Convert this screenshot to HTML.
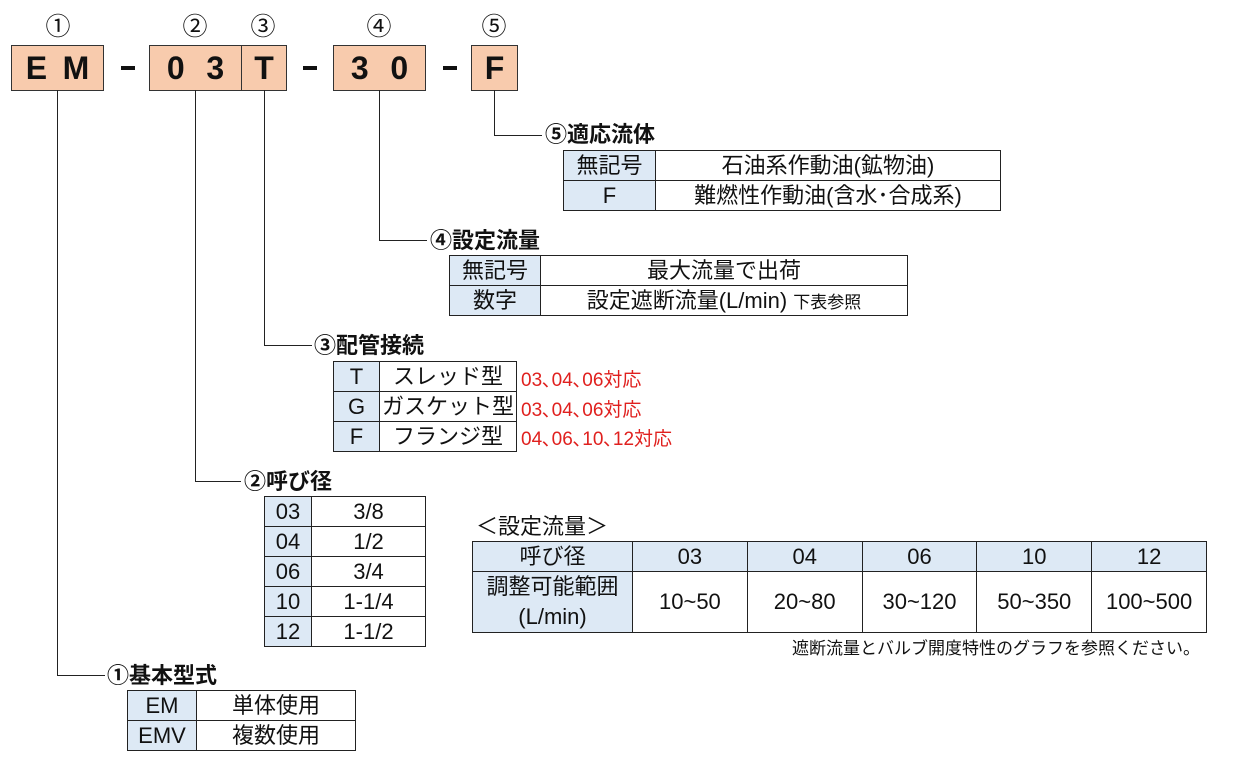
<!DOCTYPE html>
<html><head><meta charset="utf-8"><style>
body{margin:0;width:1233px;height:762px;background:#fff;position:relative;overflow:hidden;font-family:"Liberation Sans","Noto Sans CJK JP",sans-serif;color:#111}
.a{position:absolute}
.box{position:absolute;background:#f8cbad;border:1.5px solid #333;box-sizing:border-box;font-weight:bold;font-size:32px;display:flex;align-items:center;justify-content:space-around}
.num{position:absolute;font-size:25px;width:40px;text-align:center}
.dash{position:absolute;height:4px;width:14px;background:#111}
.v{position:absolute;width:1px;background:#222}
.h{position:absolute;height:1px;background:#222}
.lbl{position:absolute;font-weight:bold;font-size:22px;line-height:26px;white-space:nowrap}
table{position:absolute;border-collapse:collapse;table-layout:fixed;font-size:22px}
td{border:1.5px solid #222;padding:0;text-align:center;white-space:nowrap;line-height:1}
td.k{background:#dde9f5}
.red{position:absolute;color:#e0201e;font-size:19px;white-space:nowrap}
</style></head><body>
<div class="num" style="left:38px;top:7px">①</div>
<div class="num" style="left:175px;top:7px">②</div>
<div class="num" style="left:243px;top:7px">③</div>
<div class="num" style="left:359px;top:7px">④</div>
<div class="num" style="left:474px;top:7px">⑤</div>
<div class="box" style="left:11px;top:45px;width:93px;height:46px;padding:0 6px">E<span>M</span></div>
<div class="dash" style="left:121px;top:66px"></div>
<div class="box" style="left:149px;top:45px;width:93px;height:46px;padding:0 6px">0<span>3</span></div>
<div class="box" style="left:241px;top:45px;width:46px;height:46px">T</div>
<div class="dash" style="left:303px;top:66px"></div>
<div class="box" style="left:333px;top:45px;width:93px;height:46px;padding:0 6px">3<span>0</span></div>
<div class="dash" style="left:443px;top:66px"></div>
<div class="box" style="left:471px;top:45px;width:47px;height:46px">F</div>

<div class="v" style="left:57px;top:90px;height:586px"></div><div class="h" style="left:57px;top:675px;width:48px"></div>
<div class="v" style="left:195px;top:90px;height:392px"></div><div class="h" style="left:195px;top:481px;width:46px"></div>
<div class="v" style="left:264px;top:90px;height:256px"></div><div class="h" style="left:264px;top:345px;width:48px"></div>
<div class="v" style="left:379px;top:90px;height:151px"></div><div class="h" style="left:379px;top:240px;width:48px"></div>
<div class="v" style="left:494px;top:90px;height:46px"></div><div class="h" style="left:494px;top:135px;width:48px"></div>

<div class="lbl" style="left:545px;top:122px">⑤適応流体</div>
<table style="left:563px;top:150px;width:438px"><col style="width:92px"><col>
<tr style="height:30px"><td class="k">無記号</td><td>石油系作動油(鉱物油)</td></tr>
<tr style="height:30px"><td class="k">F</td><td>難燃性作動油(含水･合成系)</td></tr></table>

<div class="lbl" style="left:430px;top:228px">④設定流量</div>
<table style="left:449px;top:255px;width:459px"><col style="width:91px"><col>
<tr style="height:30px"><td class="k">無記号</td><td>最大流量で出荷</td></tr>
<tr style="height:30px"><td class="k">数字</td><td>設定遮断流量(L/min) <span style="font-size:17px">下表参照</span></td></tr></table>

<div class="lbl" style="left:314px;top:333px">③配管接続</div>
<table style="left:333px;top:361px;width:184px"><col style="width:46px"><col>
<tr style="height:30px"><td class="k">T</td><td>スレッド型</td></tr>
<tr style="height:30px"><td class="k">G</td><td>ガスケット型</td></tr>
<tr style="height:30px"><td class="k">F</td><td>フランジ型</td></tr></table>
<div class="red" style="left:521px;top:365px">03､04､06対応</div>
<div class="red" style="left:521px;top:395px">03､04､06対応</div>
<div class="red" style="left:521px;top:424px">04､06､10､12対応</div>

<div class="lbl" style="left:244px;top:469px">②呼び径</div>
<table style="left:264px;top:496px;width:162px"><col style="width:47px"><col>
<tr style="height:30px"><td class="k">03</td><td>3/8</td></tr>
<tr style="height:30px"><td class="k">04</td><td>1/2</td></tr>
<tr style="height:30px"><td class="k">06</td><td>3/4</td></tr>
<tr style="height:30px"><td class="k">10</td><td>1-1/4</td></tr>
<tr style="height:30px"><td class="k">12</td><td>1-1/2</td></tr></table>

<div class="lbl" style="left:107px;top:663px">①基本型式</div>
<table style="left:127px;top:690px;width:229px"><col style="width:69px"><col>
<tr style="height:30px"><td class="k">EM</td><td>単体使用</td></tr>
<tr style="height:30px"><td class="k">EMV</td><td>複数使用</td></tr></table>

<div class="a" style="left:476px;top:509px;font-size:22px">＜設定流量＞</div>
<table style="left:472px;top:541px;width:735px"><col style="width:160px"><col><col><col><col><col>
<tr style="height:30px"><td class="k">呼び径</td><td class="k">03</td><td class="k">04</td><td class="k">06</td><td class="k">10</td><td class="k">12</td></tr>
<tr style="height:60px"><td class="k" style="line-height:30px">調整可能範囲<br>(L/min)</td><td>10~50</td><td>20~80</td><td>30~120</td><td>50~350</td><td>100~500</td></tr></table>
<div class="a" style="right:33px;top:634px;font-size:17px">遮断流量とバルブ開度特性のグラフを参照ください。</div>
</body></html>
